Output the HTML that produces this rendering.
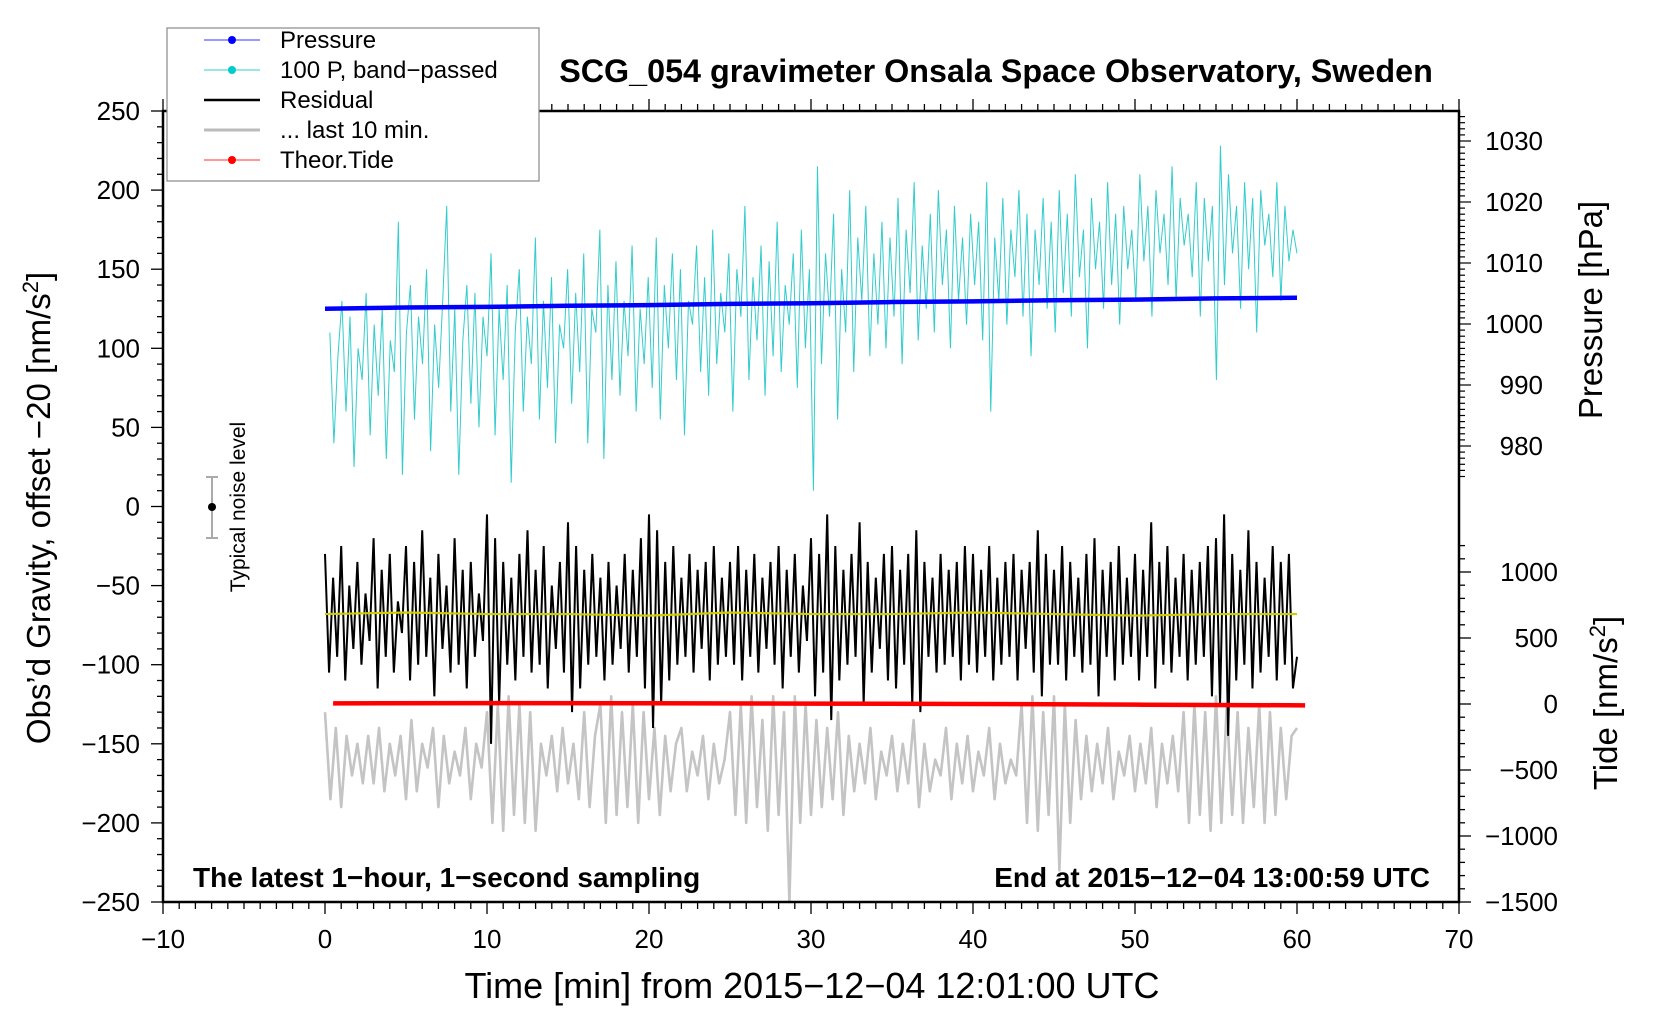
<!DOCTYPE html>
<html><head><meta charset="utf-8"><style>
html,body{margin:0;padding:0;background:#fff;}
svg{display:block;font-family:"Liberation Sans",sans-serif;}
</style></head><body>
<svg id="chart" width="1660" height="1020" viewBox="0 0 1660 1020" xmlns="http://www.w3.org/2000/svg">
<rect width="1660" height="1020" fill="#fff"/>
<g id="series"></g>
<g id="axes"></g>
<text x="996" y="82" text-anchor="middle" font-size="32.3" font-weight="bold">SCG_054 gravimeter Onsala Space Observatory, Sweden</text>
<text x="193" y="887" font-size="28" font-weight="bold">The latest 1−hour, 1−second sampling</text>
<text x="1430" y="887" text-anchor="end" font-size="28" font-weight="bold">End at 2015−12−04 13:00:59 UTC</text>
<text x="812" y="998" text-anchor="middle" font-size="36">Time [min] from 2015−12−04 12:01:00 UTC</text>
<text transform="translate(50,508) rotate(-90)" text-anchor="middle" font-size="33">Obs’d Gravity, offset −20 [nm/s<tspan dy="-12" font-size="22">2</tspan><tspan dy="12">]</tspan></text>
<text transform="translate(1602,310) rotate(-90)" text-anchor="middle" font-size="33">Pressure [hPa]</text>
<text transform="translate(1617,703) rotate(-90)" text-anchor="middle" font-size="33">Tide [nm/s<tspan dy="-12" font-size="22">2</tspan><tspan dy="12">]</tspan></text>
<g>
<line x1="212" y1="477" x2="212" y2="538" stroke="#aaa" stroke-width="2"/>
<line x1="206" y1="477" x2="218" y2="477" stroke="#aaa" stroke-width="2"/>
<line x1="206" y1="538" x2="218" y2="538" stroke="#aaa" stroke-width="2"/>
<circle cx="212" cy="507" r="4" fill="#000"/>
<text transform="translate(245,507) rotate(-90)" text-anchor="middle" font-size="21">Typical noise level</text>
</g>
<g>
<rect x="167" y="28" width="372" height="153" fill="#fff" stroke="#888" stroke-width="1.2"/>
<g><line x1="204" y1="40" x2="260" y2="40" stroke="#33f" stroke-width="1"/><circle cx="232" cy="40" r="4" fill="#00f"/><text x="280" y="48" font-size="24">Pressure</text></g>
<g><line x1="204" y1="70" x2="260" y2="70" stroke="#3cc" stroke-width="1"/><circle cx="232" cy="70" r="4" fill="#0cc"/><text x="280" y="78" font-size="24">100 P, band−passed</text></g>
<g><line x1="204" y1="100" x2="260" y2="100" stroke="#000" stroke-width="2.5"/><text x="280" y="108" font-size="24">Residual</text></g>
<g><line x1="204" y1="130" x2="260" y2="130" stroke="#bbb" stroke-width="3"/><text x="280" y="138" font-size="24">... last 10 min.</text></g>
<g><line x1="204" y1="160" x2="260" y2="160" stroke="#f33" stroke-width="1"/><circle cx="232" cy="160" r="4" fill="#f00"/><text x="280" y="168" font-size="24">Theor.Tide</text></g>
</g>
<script>
const bandPassed=[110,40,95,130,60,120,25,100,80,135,45,115,70,125,30,105,85,180,20,110,
140,55,120,90,150,35,115,75,130,190,60,125,20,105,140,65,135,50,120,95,
160,45,125,80,140,15,110,150,60,120,90,170,55,130,75,145,40,115,100,150,
65,135,85,160,40,125,110,175,30,140,80,155,70,130,95,165,60,125,90,145,
75,170,55,140,100,160,80,150,45,130,115,165,85,145,70,175,90,135,110,160,
60,150,120,190,80,145,105,165,70,155,95,180,85,140,115,160,75,175,100,150,
10,215,90,160,120,185,55,150,110,200,85,170,130,190,95,160,115,180,100,170,
120,195,90,175,135,205,105,165,125,185,110,200,140,175,100,190,130,170,115,185,
140,180,105,205,60,170,130,195,115,175,145,200,120,185,95,175,140,195,125,180,
110,200,135,185,120,210,145,175,100,195,150,180,125,205,140,185,115,190,150,175,
130,210,155,190,120,200,160,185,140,215,130,195,165,185,145,205,120,195,155,190,
80,228,140,210,160,190,125,205,150,195,110,200,165,185,145,205,130,190,155,175,160];
const residual=[-30,-105,-45,-95,-25,-110,-50,-90,-35,-100,-55,-85,-20,-115,-40,-95,-30,-105,-60,-80,
-25,-110,-35,-100,-15,-95,-45,-120,-30,-90,-50,-105,-20,-100,-40,-115,-35,-95,-55,-85,
-5,-150,-20,-125,-35,-100,-45,-110,-30,-95,-15,-105,-40,-100,-25,-115,-50,-90,-35,-105,
-10,-130,-25,-115,-40,-100,-30,-95,-45,-110,-35,-100,-50,-90,-30,-105,-40,-95,-20,-115,
-5,-140,-15,-125,-35,-110,-25,-100,-45,-95,-30,-105,-40,-90,-35,-110,-25,-100,-45,-95,
-35,-100,-25,-110,-40,-95,-30,-105,-45,-90,-35,-100,-25,-115,-40,-95,-30,-105,-50,-85,
-20,-120,-30,-105,-5,-135,-25,-110,-40,-100,-30,-95,-10,-125,-35,-105,-45,-90,-30,-110,
-25,-115,-40,-100,-30,-125,-15,-130,-35,-95,-45,-105,-30,-100,-40,-95,-35,-110,-25,-100,
-30,-105,-40,-95,-25,-110,-45,-100,-35,-95,-30,-110,-40,-90,-35,-105,-15,-120,-30,-100,
-40,-100,-25,-110,-35,-95,-45,-105,-30,-100,-20,-120,-40,-95,-35,-110,-25,-100,-45,-95,
-30,-110,-40,-95,-10,-115,-35,-100,-25,-105,-45,-95,-30,-110,-40,-100,-35,-95,-25,-120,
-20,-125,-5,-145,-30,-110,-40,-100,-15,-115,-35,-105,-45,-95,-25,-110,-35,-100,-30,-115,-95];
const last10=[-130,-185,-140,-190,-145,-170,-150,-175,-145,
-175,-140,-180,-150,-170,-145,-185,-135,-180,-150,-165,-140,-190,-145,-175,-155,-170,-140,-185,-150,-165,
-130,-200,-125,-205,-120,-195,-125,-200,-130,-205,-150,-170,
-145,-180,-140,-175,-150,-185,-130,-190,-145,
-125,-200,-120,-195,-130,-190,-125,-200,-130,-185,-140,-195,-145,-180,-150,
-140,-180,-155,-170,-145,-185,-150,-175,-160,
-130,-195,-125,-200,-120,-190,-135,-205,-120,-195,-130,-250,-120,-200,-125,-195,-135,-190,-140,-185,-130,-195,-145,-180,
-150,-175,-140,-185,-155,-170,-145,-180,-150,-175,-135,-190,-150,-180,-160,-170,-140,-185,-150,-175,-145,-180,-155,-170,-140,-185,-150,-175,-160,-170,
-125,-200,-120,-205,-130,-195,-120,-230,-125,-200,-135,-185,
-145,-180,-150,-175,-140,-185,-155,-170,-145,-180,-150,-175,-140,-190,-150,-175,-145,-180,
-130,-200,-125,-195,-130,-205,-120,-200,-125,-195,-130,-200,-140,-190,-125,-200,-130,-195,-140,-185,-145,-140];
const smoothed=[-68,-67,-68,-68,-69,-67,-68,-68,-67,-68,-69,-68,-68];
const pressureTimes=[0,5,10,15,20,25,30,35,40,45,50,55,60];
const pressure=[1002.5,1002.7,1002.8,1003.0,1003.1,1003.3,1003.4,1003.6,1003.7,1003.9,1004.0,1004.2,1004.3];
const tideTimes=[0.5,10,20,30,40,50,60.5];
const tide=[5,7,6,3,0,-5,-10];
const xTicks=[-10,0,10,20,30,40,50,60,70];
const yTicks=[250,200,150,100,50,0,-50,-100,-150,-200,-250];
const pTicks=[1030,1020,1010,1000,990,980];
const tTicks=[1000,500,0,-500,-1000,-1500];

const NS='http://www.w3.org/2000/svg';
const X=t=>163+(t+10)*(1459-163)/80;
const Y=v=>506.5-v*(902-111)/500;
const YP=p=>141+(1030-p)*(446-141)/50;
const YT=t=>704-t*(902-572)/2500;
function mk(tag,attrs,parent){const e=document.createElementNS(NS,tag);for(const k in attrs)e.setAttribute(k,attrs[k]);parent.appendChild(e);return e;}
const S=document.getElementById('series'),A=document.getElementById('axes');
function seriesPath(vals,tFn,yFn){return vals.map((v,i)=>(i?'L':'M')+X(tFn(i)).toFixed(2)+' '+yFn(v).toFixed(2)).join(' ');}
const stepT=(n,t0,t1)=>i=>t0+i*(t1-t0)/(n-1);

let p=mk('path',{d:seriesPath(last10,stepT(last10.length,0,60),Y),fill:'none',stroke:'#c4c4c4','stroke-width':2.6,'stroke-linejoin':'round'},S);


p=mk('path',{d:seriesPath(bandPassed,stepT(bandPassed.length,0.3,60),Y),fill:'none',stroke:'#33cccc','stroke-width':1},S);


p=mk('path',{d:seriesPath(residual,stepT(residual.length,0,60),Y),fill:'none',stroke:'#000','stroke-width':2},S);


p=mk('path',{d:seriesPath(smoothed,stepT(smoothed.length,0,60),Y),fill:'none',stroke:'#cccc00','stroke-width':2.2},S);


p=mk('path',{d:seriesPath(pressure,i=>pressureTimes[i],YP),fill:'none',stroke:'#0000ff','stroke-width':4.5},S);


p=mk('path',{d:seriesPath(tide,i=>tideTimes[i],YT),fill:'none',stroke:'#ff0000','stroke-width':4.5},S);



let f=mk('path',{d:`M163 111 H1459 V902 H163 Z`,fill:'none',stroke:'#000','stroke-width':2.5},A);


for(let t=-10;t<=70;t++){const major=t%10===0;const x=X(t);
 mk('line',{x1:x,y1:902,x2:x,y2:902+(major?12:7),stroke:'#000','stroke-width':1.3},A);
 mk('line',{x1:x,y1:111,x2:x,y2:111-(major?12:7),stroke:'#000','stroke-width':1.3},A);}
xTicks.forEach(t=>{const e=mk('text',{x:X(t),y:948,'text-anchor':'middle','font-size':26},A);e.textContent=t<0?'−'+(-t):t;
 
 });
for(let v=-250;v<=250;v+=10){const major=v%50===0;const y=Y(v);mk('line',{x1:163,y1:y,x2:163-(major?12:6),y2:y,stroke:'#000','stroke-width':1.3},A);}
yTicks.forEach(v=>{const e=mk('text',{x:140,y:Y(v)+9,'text-anchor':'end','font-size':26},A);e.textContent=v<0?'−'+(-v):v;
 
 });
for(let v=975;v<=1034;v++){const major=v%10===0;const y=YP(v);mk('line',{x1:1459,y1:y,x2:1459+(major?12:6),y2:y,stroke:'#000','stroke-width':1.2},A);}
pTicks.forEach(v=>{const e=mk('text',{x:1543,y:YP(v)+9,'text-anchor':'end','font-size':26},A);e.textContent=v;
 
 });
for(let v=-1500;v<=1200;v+=100){const major=v%500===0;const y=YT(v);mk('line',{x1:1459,y1:y,x2:1459+(major?12:6),y2:y,stroke:'#000','stroke-width':1.3},A);}
tTicks.forEach(v=>{const e=mk('text',{x:1558,y:YT(v)+9,'text-anchor':'end','font-size':26},A);e.textContent=v<0?'−'+(-v):v;
 
 });
</script>
</svg>
</body></html>
